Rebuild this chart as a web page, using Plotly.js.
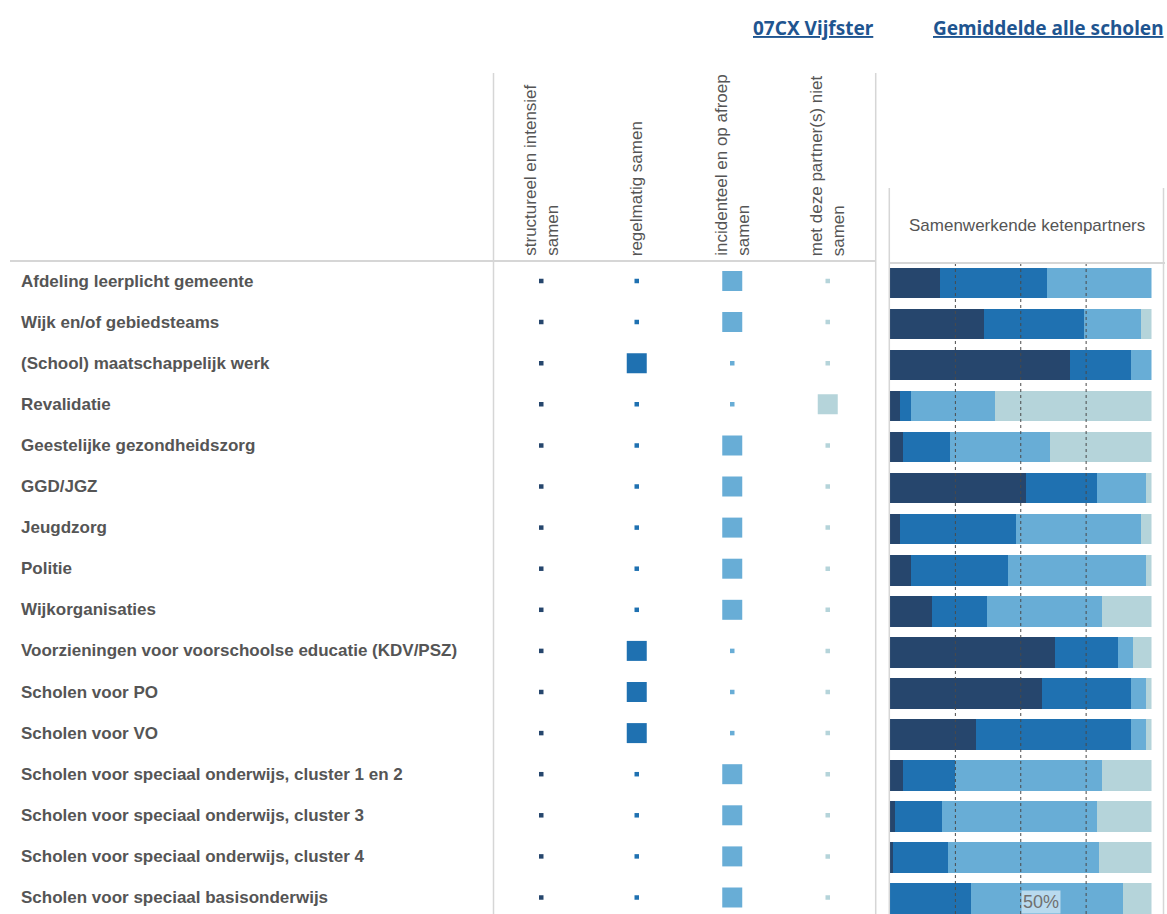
<!DOCTYPE html>
<html>
<head>
<meta charset="utf-8">
<script src="https://cdn.plot.ly/plotly-3.0.1.min.js"></script>
<style>html,body{margin:0;padding:0;background:#fff;}#chart{width:1167px;height:914px;}</style>
</head>
<body>
<div id="chart"></div>
<script>
// ---- data ----
const partners = [
  "Afdeling leerplicht gemeente",
  "Wijk en/of gebiedsteams",
  "(School) maatschappelijk werk",
  "Revalidatie",
  "Geestelijke gezondheidszorg",
  "GGD/JGZ",
  "Jeugdzorg",
  "Politie",
  "Wijkorganisaties",
  "Voorzieningen voor voorschoolse educatie (KDV/PSZ)",
  "Scholen voor PO",
  "Scholen voor VO",
  "Scholen voor speciaal onderwijs, cluster 1 en 2",
  "Scholen voor speciaal onderwijs, cluster 3",
  "Scholen voor speciaal onderwijs, cluster 4",
  "Scholen voor speciaal basisonderwijs"
];
const answerCategories = [
  "structureel en intensief samen",
  "regelmatig samen",
  "incidenteel en op afroep samen",
  "met deze partner(s) niet samen"
];
const answerHeaderLabels = [
  "structureel en intensief<br>samen",
  "regelmatig samen",
  "incidenteel en op afroep<br>samen",
  "met deze partner(s) niet<br>samen"
];
// answer of school 07CX Vijfster (index into answerCategories)
const schoolAnswer = [2, 2, 1, 3, 2, 2, 2, 2, 2, 1, 1, 1, 2, 2, 2, 2];
// average of all schools (%)
const avgStructureel = [19, 36, 69, 4, 5, 52, 4, 8, 16, 63, 58, 33, 5, 2, 1, 0];
const avgRegelmatig  = [41, 38, 23, 4, 18, 27, 44, 37, 21, 24, 34, 59, 20, 18, 21, 31];
const avgIncidenteel = [40, 22, 8, 32, 38, 19, 48, 53, 44, 6, 6, 6, 56, 59, 58, 58];
const avgNiet        = [0, 4, 0, 60, 39, 2, 4, 2, 19, 7, 2, 2, 19, 21, 20, 11];
const referenceLines = [25, 50, 75];
const schoolTitle = "07CX Vijfster";
const avgTitle = "Gemiddelde alle scholen";
const panelTitle = "Samenwerkende ketenpartners";

// ---- styling ----
const W = 1167, H = 914;
const colors = ["#26466d", "#1f71b1", "#68add6", "#b5d4da"];
const px = v => v / W;
const py = v => 1 - v / H;
const labelFont = {family: "Liberation Sans, Arial, sans-serif", size: 17, color: "#555555", weight: 700};
const textFont = {family: "Liberation Sans, Arial, sans-serif", size: 17, color: "#555555"};
const linkFont = {family: "Noto Sans, sans-serif", size: 19, color: "#1f5590", weight: 700, lineposition: "under"};

const traces = [];
// school markers
answerCategories.forEach((cat, c) => {
  traces.push({
    type: "scatter", mode: "markers",
    x: partners.map(() => cat), y: partners,
    xaxis: "x", yaxis: "y",
    marker: {symbol: "square", color: colors[c], opacity: 1,
      size: schoolAnswer.map(a => a === c ? 20 : 4.5),
      line: {width: 0}},
    hoverinfo: "skip", showlegend: false
  });
});
// average bars
[avgStructureel, avgRegelmatig, avgIncidenteel, avgNiet].forEach((vals, c) => {
  traces.push({
    type: "bar", orientation: "h",
    x: vals, y: partners, xaxis: "x2", yaxis: "y2",
    marker: {color: colors[c], line: {width: 0}},
    name: answerCategories[c], showlegend: false, hoverinfo: "skip"
  });
});

const annotations = [];
partners.forEach(p => annotations.push({
  xref: "paper", yref: "y", x: px(19), y: p, xanchor: "left", yanchor: "middle",
  text: p, showarrow: false, font: labelFont
}));
answerCategories.forEach((cat, c) => annotations.push({
  xref: "x", yref: "paper", x: cat, y: py(258), xanchor: "center", yanchor: "bottom",
  textangle: -90, align: "left", text: answerHeaderLabels[c], showarrow: false, font: textFont
}));
annotations.push({xref: "paper", yref: "paper", x: px(1026.5), y: py(225), xanchor: "center", yanchor: "middle",
  text: panelTitle, showarrow: false, font: textFont});
annotations.push({xref: "paper", yref: "paper", x: px(751), y: py(28), xanchor: "left", yanchor: "middle",
  text: schoolTitle, showarrow: false, font: linkFont});
annotations.push({xref: "paper", yref: "paper", x: px(1166), y: py(28), xanchor: "right", yanchor: "middle",
  text: avgTitle, showarrow: false, font: linkFont});
annotations.push({xref: "x2", yref: "paper", x: referenceLines[1], y: py(890), xanchor: "left", yanchor: "top",
  text: referenceLines[1] + "%", showarrow: false, bgcolor: "rgba(200,226,242,0.85)", borderpad: 1,
  font: {family: "Liberation Sans, Arial, sans-serif", size: 18, color: "#707070"}});

const lineCol = "#d6d6d6";
const shapes = [
  {type: "line", xref: "paper", yref: "paper", x0: px(493.5), x1: px(493.5), y0: 0, y1: py(73), line: {color: lineCol, width: 1.5}},
  {type: "line", xref: "paper", yref: "paper", x0: px(875.7), x1: px(875.7), y0: 0, y1: py(73), line: {color: lineCol, width: 1.5}},
  {type: "line", xref: "paper", yref: "paper", x0: px(10), x1: px(876), y0: py(261), y1: py(261), line: {color: lineCol, width: 2}},
  {type: "line", xref: "paper", yref: "paper", x0: px(889.3), x1: px(889.3), y0: 0, y1: py(188), line: {color: lineCol, width: 1.5}},
  {type: "line", xref: "paper", yref: "paper", x0: px(1163.5), x1: px(1163.5), y0: 0, y1: py(188), line: {color: lineCol, width: 1.5}},
  {type: "line", xref: "paper", yref: "paper", x0: px(889), x1: px(1165), y0: py(263), y1: py(263), line: {color: lineCol, width: 2}}
];
referenceLines.forEach(v => shapes.push({
  type: "line", xref: "x2", yref: "paper", x0: v, x1: v, y0: 0, y1: py(264), layer: "above",
  line: {color: "#4a4a4a", width: 1, dash: "dot"}
}));

const hidden = {showgrid: false, zeroline: false, showticklabels: false, showline: false, ticks: ""};
const layout = {
  width: W, height: H, margin: {l: 0, r: 0, t: 0, b: 0},
  paper_bgcolor: "#ffffff", plot_bgcolor: "rgba(0,0,0,0)",
  barmode: "stack", bargap: 0.255, showlegend: false, hovermode: false,
  xaxis: Object.assign({domain: [px(493.5), px(875.5)], type: "category", categoryarray: answerCategories,
    categoryorder: "array", range: [-0.5, 3.5], anchor: "y", fixedrange: true}, hidden),
  yaxis: Object.assign({domain: [0, py(261)], type: "category", categoryarray: partners, categoryorder: "array",
    range: [(914 - 281) / 41.1, (261 - 281) / 41.1], anchor: "x", fixedrange: true}, hidden),
  xaxis2: Object.assign({domain: [px(890), px(1151.5)], range: [0, 100], anchor: "y2", fixedrange: true}, hidden),
  yaxis2: Object.assign({domain: [0, py(261)], type: "category", categoryarray: partners, categoryorder: "array",
    range: [(915 - 283) / 41.1, (261 - 283) / 41.1], anchor: "x2", fixedrange: true}, hidden),
  annotations: annotations, shapes: shapes
};
Plotly.newPlot("chart", traces, layout, {staticPlot: true, displayModeBar: false});
</script>
</body>
</html>
